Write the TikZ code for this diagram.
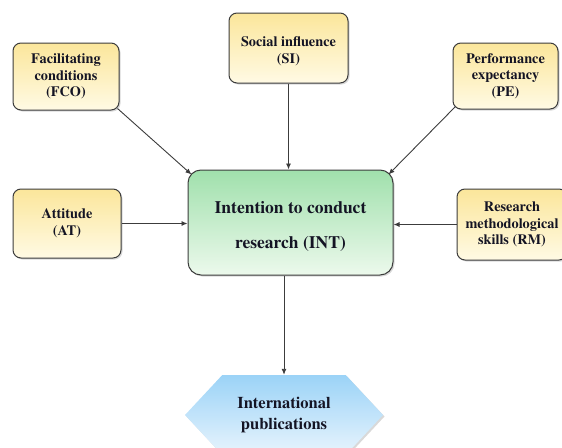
\documentclass[tikz,border=0pt]{standalone}
\usepackage[T1]{fontenc}
\usepackage{times}
\usetikzlibrary{shadows,shapes.symbols,arrows.meta}
\definecolor{ytop}{RGB}{251,230,155}
\definecolor{ybot}{RGB}{255,250,228}
\definecolor{gtop}{RGB}{160,224,172}
\definecolor{gbot}{RGB}{236,249,236}
\definecolor{btop}{RGB}{155,211,247}
\definecolor{bbot}{RGB}{232,244,253}
\definecolor{bord}{RGB}{60,60,60}
\definecolor{txt}{RGB}{20,20,36}
\tikzset{
  factor/.style={draw=bord, line width=1pt, rounded corners=8pt, top color=ytop, bottom color=ybot,
    drop shadow={shadow xshift=1.5pt, shadow yshift=-1.5pt, opacity=0.3},
    align=center, inner sep=0pt, text=txt, font=\rmfamily\bfseries\fontsize{14.3}{16.5}\selectfont},
  central/.style={draw=bord, line width=1pt, rounded corners=13pt, top color=gtop, bottom color=gbot,
    drop shadow={shadow xshift=1.5pt, shadow yshift=-1.5pt, opacity=0.3},
    align=center, inner sep=0pt, text=txt, font=\rmfamily\bfseries\fontsize{17.5}{35}\selectfont},
  outcome/.style={signal, signal to=west and east, signal pointer angle=94, top color=btop, bottom color=bbot,
    drop shadow={shadow xshift=1.5pt, shadow yshift=-1.5pt, opacity=0.3},
    align=center, inner sep=0pt, text=txt, font=\rmfamily\bfseries\fontsize{16.5}{21}\selectfont},
  arr/.style={draw=bord, line width=0.9pt, -{Latex[length=6pt,width=5pt]}}
}
\begin{document}
\begin{tikzpicture}[x=1pt,y=-1pt]
\useasboundingbox (0,0) rectangle (562,447);
\node[factor, minimum width=106pt, minimum height=67pt] (fco) at (66,76.5) {Facilitating\\conditions\\(FCO)};
\node[factor, minimum width=119pt, minimum height=70pt] (si) at (288.5,48) {\rule{0pt}{16pt}Social influence\\(SI)};
\node[factor, minimum width=105pt, minimum height=66pt] (pe) at (505.5,76) {Performance\\expectancy\\(PE)};
\node[factor, minimum width=108pt, minimum height=69pt] (at) at (67,223.5) {Attitude\\(AT)};
\node[factor, minimum width=110pt, minimum height=71pt] (rm) at (512,224.5) {Research\\methodological\\skills (RM)};
\node[central, minimum width=205pt, minimum height=105pt] (int) at (290.5,222.5) {\rule{0pt}{20pt}Intention to conduct\\research (INT)};
\node[outcome, minimum width=198pt, minimum height=80pt] (pub) at (284,415) {International\\publications};
\draw[arr] ([shift={(-2,-2)}]fco.south east) -- ([shift={(4,5)}]int.north west);
\draw[arr] (si.south) -- (int.north -| si.south);
\draw[arr] (at.east) -- (int.west |- at.east);
\draw[arr] (rm.west) -- (int.east |- rm.west);
\draw[arr] (int.south -| pub.north) -- (pub.north);
\draw[arr] ([shift={(3,-3)}]pe.south west) -- ([shift={(-5,5)}]int.north east);
\end{tikzpicture}
\end{document}
